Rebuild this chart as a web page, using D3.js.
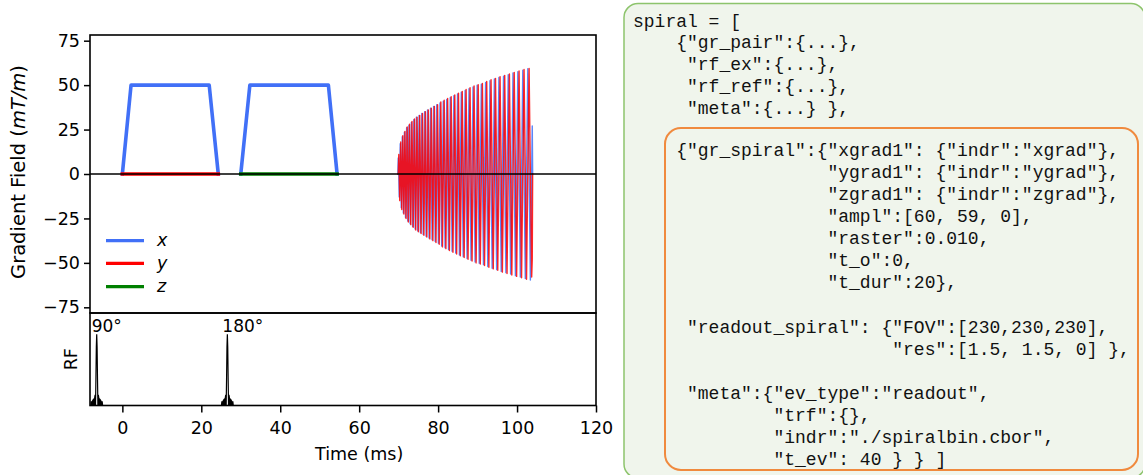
<!DOCTYPE html>
<html><head><meta charset="utf-8">
<script src="https://cdn.jsdelivr.net/npm/d3@7"></script>
<style>body{margin:0;background:#fff}svg{display:block}</style>
</head><body>
<svg id="c" width="1143" height="475"></svg>
<script>
// ---------------- data ----------------
const xTicks = [0, 20, 40, 60, 80, 100, 120];
const yTicks = [-75, -50, -25, 0, 25, 50, 75];
const seriesNames = ["x", "y", "z"];
const seriesColors = ["#4170f7", "#ff0000", "#008000"];

// gradient pair (trapezoids) on x, zero-valued y and z
const trap1T = [0, 2.2, 22.0, 24.3];
const trap1X = [0, 50, 50, 0];
const trap2T = [30, 32.3, 52.2, 54.4];
const trap2X = [0, 50, 50, 0];
const yZeroT = [0, 24.3];
const yZeroV = [0, 0];
const zZeroT = [30, 54.4];
const zZeroV = [0, 0];

// spiral readout (quarter-turn samples)
const spiralT = [69.80,
 69.90,70.03,70.15,70.28, 70.40,70.53,70.66,70.79, 70.92,71.06,71.19,71.33, 71.46,71.60,71.74,71.88,
 72.02,72.17,72.32,72.46, 72.61,72.76,72.92,73.07, 73.22,73.38,73.54,73.69, 73.85,74.01,74.18,74.34,
 74.50,74.67,74.84,75.00, 75.17,75.34,75.52,75.69, 75.86,76.04,76.22,76.40, 76.58,76.77,76.95,77.14,
 77.32,77.51,77.70,77.89, 78.08,78.28,78.47,78.67, 78.86,79.06,79.26,79.46, 79.66,79.87,80.07,80.28,
 80.48,80.69,80.90,81.11, 81.32,81.54,81.76,81.97, 82.19,82.41,82.64,82.86, 83.08,83.31,83.54,83.76,
 83.99,84.22,84.46,84.69, 84.92,85.16,85.40,85.63, 85.87,86.11,86.36,86.60, 86.84,87.09,87.34,87.58,
 87.83,88.09,88.34,88.60, 88.85,89.11,89.37,89.63, 89.89,90.16,90.42,90.69, 90.95,91.22,91.49,91.76,
 92.03,92.31,92.58,92.86, 93.13,93.41,93.69,93.97, 94.25,94.54,94.83,95.11, 95.40,95.69,95.99,96.28,
 96.57,96.87,97.17,97.46, 97.76,98.06,98.37,98.67, 98.97,99.28,99.59,99.89, 100.20,100.51,100.83,101.14,
 101.45,101.77,102.09,102.40, 102.72,103.05,103.37,103.70,
 103.85,103.95];
const spiralX = [0,
 9,0,-13,0, 17,0,-19,0, 21,0,-22,0, 23.5,0,-24.5,0,
 26,0,-26.5,0, 27.5,0,-28,0, 29,0,-29.5,0, 30.5,0,-31,0,
 32,0,-32,0, 33,0,-33,0, 34,0,-34,0, 35,0,-35,0,
 36,0,-36,0, 37,0,-37,0, 38,0,-38,0, 39,0,-39,0,
 40,0,-40.5,0, 41,0,-41.5,0, 42,0,-42.5,0, 43,0,-43.5,0,
 44,0,-44.5,0, 45,0,-45.5,0, 46,0,-46.5,0, 47,0,-47.5,0,
 48,0,-48.5,0, 49,0,-49.5,0, 50,0,-50.2,0, 50.5,0,-51,0,
 51.5,0,-52,0, 52.5,0,-53,0, 53.5,0,-53.8,0, 54.3,0,-54.8,0,
 55,0,-55.5,0, 55.8,0,-56.3,0, 56.8,0,-57.2,0, 57.6,0,-58,0,
 58.4,0,-58.8,0, 59.2,0,-59.6,0,
 27,0];
const spiralY = [0,
 0,11,0,-15, 0,18,0,-20, 0,21.5,0,-22.5, 0,24,0,-25,
 0,26.5,0,-27, 0,28,0,-28.5, 0,29.5,0,-30, 0,31,0,-31.5,
 0,32,0,-32.5, 0,33,0,-33.5, 0,34,0,-34.5, 0,35,0,-35.5,
 0,36,0,-36.5, 0,37,0,-37.5, 0,38,0,-38.5, 0,39,0,-39.5,
 0,40.5,0,-41, 0,41.5,0,-42, 0,42.5,0,-43, 0,43.5,0,-44,
 0,44.5,0,-45, 0,45.5,0,-46, 0,46.5,0,-47, 0,47.5,0,-48,
 0,48.5,0,-49, 0,49.5,0,-50, 0,50.2,0,-50.6, 0,51,0,-51.5,
 0,52,0,-52.5, 0,53,0,-53.4, 0,53.8,0,-54.2, 0,54.8,0,-55.2,
 0,55.5,0,-56, 0,56.3,0,-56.8, 0,57.2,0,-57.6, 0,58,0,-58.4,
 0,58.8,0,-59.2, 0,59.4,0,-58,
 -48,0];

// RF pulses (magnitude, normalised)
const rfCenters = [-6.5, 26.6];
const rfLabels = ["90°", "180°"];
const rfOffsets = [-1.5,-1.4,-1.3,-1.2,-1.1,-1.0,-0.9,-0.8,-0.7,-0.6,-0.5,-0.4,-0.3,-0.2,-0.1,0,
  0.1,0.2,0.3,0.4,0.5,0.6,0.7,0.8,0.9,1.0,1.1,1.2,1.3,1.4,1.5];
const rfMag = [0.0,0.05,0.05,0.0,0.06,0.07,0.0,0.08,0.09,0.0,0.12,0.15,0.0,0.38,0.82,1.0,
  0.82,0.38,0.0,0.15,0.12,0.0,0.09,0.08,0.0,0.07,0.06,0.0,0.05,0.05,0.0];

// code panel text
const codeLines = [
  'spiral = [',
  '    {"gr_pair":{...},',
  '     "rf_ex":{...},',
  '     "rf_ref":{...},',
  '     "meta":{...} },',
  '    {"gr_spiral":{"xgrad1": {"indr":"xgrad"},',
  '                  "ygrad1": {"indr":"ygrad"},',
  '                  "zgrad1": {"indr":"zgrad"},',
  '                  "ampl":[60, 59, 0],',
  '                  "raster":0.010,',
  '                  "t_o":0,',
  '                  "t_dur":20},',
  '     "readout_spiral": {"FOV":[230,230,230],',
  '                        "res":[1.5, 1.5, 0] },',
  '     "meta":{"ev_type":"readout",',
  '             "trf":{},',
  '             "indr":"./spiralbin.cbor",',
  '             "t_ev": 40 } } ]'
];
const codeBaselines = [26.7,48.4,70.1,91.8,113.5,155.5,177.5,199.5,221.5,243.5,265.7,288,333,355,398.5,420.5,443,465];

// ---------------- drawing ----------------
const svg = d3.select("#c");
const FONT = "DejaVu Sans, sans-serif";
const FS = 17.5;
const L = 90, R = 596, T = 35, M = 313, B = 405.5;

const x = d3.scaleLinear().domain([-8.2, 120]).range([L, R]);
const y = d3.scaleLinear().domain([-78.2, 78.2]).range([M, T]);
const yRF = d3.scaleLinear().domain([0, 1.3]).range([B, M]);

// code panel
svg.append("rect").attr("x", 624).attr("y", 3.5).attr("width", 521).attr("height", 474.5)
  .attr("rx", 14).attr("fill", "#f0f5ec").attr("stroke", "#8dc46c").attr("stroke-width", 1.5);
svg.append("rect").attr("x", 665).attr("y", 128).attr("width", 473).attr("height", 342)
  .attr("rx", 16).attr("fill", "none").attr("stroke", "#f08a3e").attr("stroke-width", 2);
svg.append("g").selectAll("text").data(codeLines).join("text")
  .attr("x", 633).attr("y", (d, i) => codeBaselines[i])
  .attr("xml:space", "preserve").style("white-space", "pre")
  .attr("font-family", "Liberation Mono, monospace").attr("font-size", 18)
  .attr("fill", "#111").text(d => d);

const line = (ys) => d3.line().x(d => x(d[0])).y(d => ys(d[1]));
const zip = (a, b) => a.map((v, i) => [v, b[i]]);

// gradient traces
const gTop = svg.append("g");
function trace(t, v, color, w, op) {
  gTop.append("path").datum(zip(t, v)).attr("d", line(y))
    .attr("fill", "none").attr("stroke", color).attr("stroke-width", w)
    .attr("stroke-opacity", op || 1)
    .attr("stroke-linejoin", "round").attr("stroke-linecap", "square");
}
trace(trap1T, trap1X, seriesColors[0], 3.6);
trace(trap2T, trap2X, seriesColors[0], 3.6);
trace(spiralT, spiralX, seriesColors[0], 1.4, 0.85);
trace(yZeroT, yZeroV, seriesColors[1], 3.6);
trace(spiralT, spiralY, seriesColors[1], 1.4, 0.85);
trace(zZeroT, zZeroV, seriesColors[2], 3.6);

// zero line
svg.append("line").attr("x1", L).attr("x2", R).attr("y1", y(0)).attr("y2", y(0))
  .attr("stroke", "#000").attr("stroke-width", 1.5);

// RF pulses
const gRF = svg.append("g");
rfCenters.forEach((c, k) => {
  gRF.append("path").datum(zip(rfOffsets.map(o => c + o), rfMag)).attr("d", line(yRF))
    .attr("fill", "none").attr("stroke", "#000").attr("stroke-width", 1.2);
  gRF.append("text").attr("x", x(c) - 5).attr("y", 331.5)
    .attr("font-family", FONT).attr("font-size", 17).attr("fill", "#000").text(rfLabels[k]);
});

// frames
svg.append("rect").attr("x", L).attr("y", T).attr("width", R - L).attr("height", M - T)
  .attr("fill", "none").attr("stroke", "#000").attr("stroke-width", 1.6);
svg.append("rect").attr("x", L).attr("y", M).attr("width", R - L).attr("height", B - M)
  .attr("fill", "none").attr("stroke", "#000").attr("stroke-width", 1.6);

// axes
const fmt = d => d < 0 ? "\u2212" + Math.abs(d) : String(d);
const ay = svg.append("g").attr("transform", `translate(${L},0)`)
  .call(d3.axisLeft(y).tickValues(yTicks).tickFormat(fmt).tickSize(6).tickPadding(4));
const ax = svg.append("g").attr("transform", `translate(0,${B})`)
  .call(d3.axisBottom(x).tickValues(xTicks).tickFormat(fmt).tickSize(7).tickPadding(9));
[ay, ax].forEach(g => {
  g.select(".domain").remove();
  g.selectAll("line").attr("stroke", "#000").attr("stroke-width", 1.5);
  g.selectAll("text").attr("font-family", FONT).attr("font-size", FS).attr("fill", "#000");
});

// axis labels
svg.append("text").attr("x", x(60)).attr("y", 460).attr("text-anchor", "middle")
  .attr("font-family", FONT).attr("font-size", FS).text("Time (ms)");
const yl = svg.append("text").attr("transform", `translate(25,${y(0) - 2}) rotate(-90)`)
  .attr("text-anchor", "middle").attr("font-family", FONT).attr("font-size", 19.5);
yl.append("tspan").text("Gradient Field (");
yl.append("tspan").attr("font-style", "italic").text("mT/m");
yl.append("tspan").text(")");
svg.append("text").attr("transform", `translate(77,${(M + B) / 2}) rotate(-90)`)
  .attr("text-anchor", "middle").attr("font-family", FONT).attr("font-size", FS).text("RF");

// legend
const lg = svg.append("g");
const legY = [240.7, 263.3, 286.7];
seriesNames.forEach((n, i) => {
  lg.append("line").attr("x1", 106).attr("x2", 144).attr("y1", legY[i]).attr("y2", legY[i])
    .attr("stroke", seriesColors[i]).attr("stroke-width", 3.2);
  lg.append("text").attr("x", 157).attr("y", legY[i] + 5.5).attr("font-family", FONT)
    .attr("font-size", FS).attr("font-style", "italic").text(n);
});
</script>
</body></html>
